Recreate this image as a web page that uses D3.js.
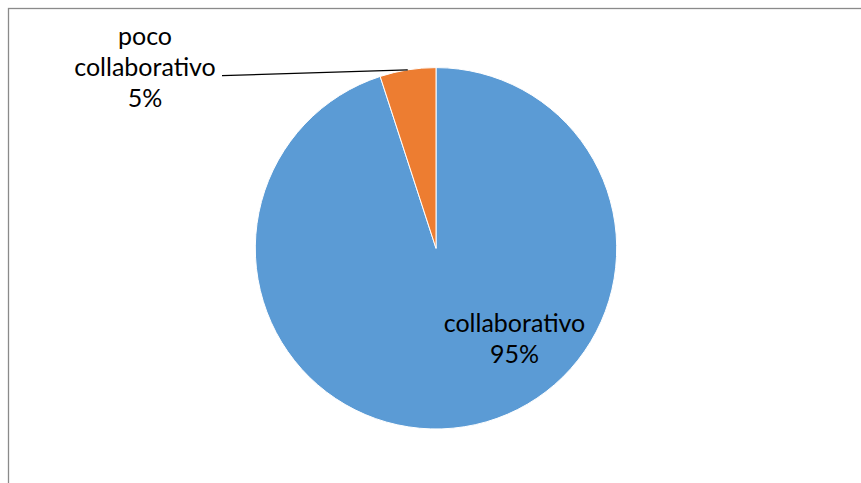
<!DOCTYPE html>
<html>
<head>
<meta charset="utf-8">
<script src="https://cdn.jsdelivr.net/npm/d3@7"></script>
<style>
  html, body { margin: 0; padding: 0; background: #fff; }
  svg { display: block; }
</style>
</head>
<body>
<svg id="chart" width="861" height="483"></svg>
<script>
// Share of responses per category
const categories = ["collaborativo", "poco collaborativo"];
const values = [95, 5];
const percentLabels = ["95%", "5%"];
const sliceColors = ["#5B9BD5", "#ED7D31"];

const svg = d3.select("#chart");
const W = 861, H = 483;
const font = "Lato, 'Open Sans', sans-serif";

// Chart area frame (only its top and left edges fall inside the view)
svg.append("rect")
  .attr("x", 8.5).attr("y", 8.5)
  .attr("width", W + 20).attr("height", H + 20)
  .attr("fill", "#fff")
  .attr("stroke", "#8a8a8a")
  .attr("stroke-width", 1.3);

const cx = 436, cy = 248.3, r = 180.7;

// Slices run clockwise from 12 o'clock; the small slice ends at the top
const pie = d3.pie().sort(null).value(d => d)
  .startAngle(0).endAngle(2 * Math.PI);
const arcs = pie(values);
const arc = d3.arc().innerRadius(0).outerRadius(r);

const g = svg.append("g").attr("transform", `translate(${cx},${cy})`);

g.selectAll("path.slice")
  .data(arcs)
  .join("path")
  .attr("class", "slice")
  .attr("d", arc)
  .attr("fill", (d, i) => sliceColors[i])
  .attr("stroke", "#fff")
  .attr("stroke-width", 1);

// Label for the large slice, placed inside
const big = arcs[0];
const bigLabel = svg.append("text")
  .attr("font-family", font)
  .attr("font-size", 25)
  .attr("fill", "#000")
  .attr("text-anchor", "middle");
bigLabel.append("tspan").attr("x", 514.5).attr("y", 332).text(categories[0]);
bigLabel.append("tspan").attr("x", 514.5).attr("y", 363).text(percentLabels[0]);

// Label for the small slice, placed outside with a leader line
const small = arcs[1];
const smallLabel = svg.append("text")
  .attr("font-family", font)
  .attr("font-size", 25)
  .attr("fill", "#000")
  .attr("text-anchor", "middle");
const words = categories[1].split(" ");
smallLabel.append("tspan").attr("x", 145).attr("y", 45).text(words[0]);
smallLabel.append("tspan").attr("x", 145).attr("y", 76).text(words.slice(1).join(" "));
smallLabel.append("tspan").attr("x", 145).attr("y", 107).text(percentLabels[1]);

const midAngle = (small.startAngle + small.endAngle) / 2;
const edge = [cx + r * Math.sin(midAngle), cy - r * Math.cos(midAngle)];
svg.append("line")
  .attr("x1", 222).attr("y1", 75.7)
  .attr("x2", edge[0]).attr("y2", edge[1])
  .attr("stroke", "#000")
  .attr("stroke-width", 1.2);
</script>
</body>
</html>
